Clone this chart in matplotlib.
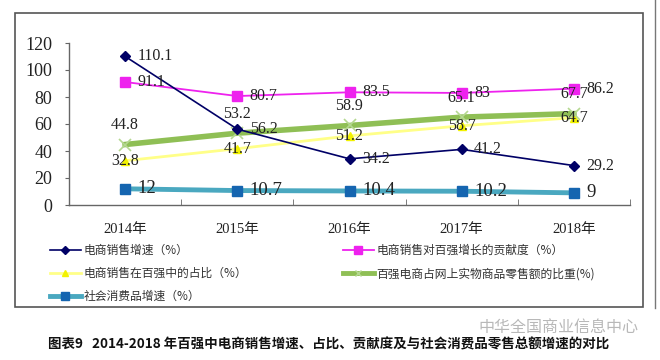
import matplotlib
matplotlib.use('Agg')
import matplotlib.pyplot as plt
from matplotlib.lines import Line2D
from matplotlib.patches import Rectangle

# ---------------- data ----------------
years = ['2014年', '2015年', '2016年', '2017年', '2018年']
growth = [110.1, 56.2, 34.2, 41.2, 29.2]          # 电商销售增速
contrib = [91.1, 80.7, 83.5, 83, 86.2]            # 贡献度
share = [32.8, 41.7, 51.2, 58.7, 64.7]            # 占比
online_share = [44.8, 53.2, 58.9, 65.1, 67.7]     # 占网上实物商品零售额比重
retail_growth = [12, 10.7, 10.4, 10.2, 9]         # 社会消费品增速
series_names = ['电商销售增速（%）', '电商销售对百强增长的贡献度（%）',
                '电商销售在百强中的占比（%）', '百强电商占网上实物商品零售额的比重(%)',
                '社会消费品增速（%）']
yticks = [0, 20, 40, 60, 80, 100, 120]
caption = '图表9   2014-2018 年百强中电商销售增速、占比、贡献度及与社会消费品零售总额增速的对比'
watermark = '中华全国商业信息中心'

plt.rcParams['font.family'] = ['Liberation Serif', 'Noto Sans CJK SC']
W, H = 660, 360
fig = plt.figure(figsize=(W / 100, H / 100), dpi=100)
fig.patch.set_facecolor('white')

def fx(px):
    return px / W

def fy(py):
    return 1 - py / H

ax = fig.add_axes([fx(69), fy(205), fx(630) - fx(69), fy(43) - fy(205)])
x = list(range(len(years)))

c_navy = '#000066'
c_mag = '#ee22ee'
c_yel_line = '#ffff88'
c_yel_mk = '#f2f200'
c_green = '#8fbf55'
c_green_mk = '#b5d890'
c_blue_line = '#4aa8c0'
c_blue_mk = '#1565b0'

ax.plot(x, retail_growth, color=c_blue_line, lw=3.5, marker='s', ms=7,
        mfc=c_blue_mk, mec=c_blue_mk, zorder=2)
ax.plot(x, share, color=c_yel_line, lw=2.0, marker='^', ms=6,
        mfc=c_yel_mk, mec=c_yel_mk, zorder=3)
ax.plot(x, online_share, color=c_green, lw=4.0, marker='x', ms=8, mew=1.2,
        mec=c_green_mk, zorder=4)
ax.plot(x, contrib, color=c_mag, lw=1.3, marker='s', ms=7,
        mfc=c_mag, mec=c_mag, zorder=5)
ax.plot(x, growth, color=c_navy, lw=1.2, marker='D', ms=5,
        mfc=c_navy, mec=c_navy, zorder=6)

lab_kw = dict(textcoords='offset points', color='#222222', fontsize=11.5,
              family=['Liberation Serif'])
for i in x:
    ax.annotate(f'{growth[i]:g}', (i, growth[i]), xytext=(9, 0),
                ha='left', va='center', zorder=7, **lab_kw)
    ax.annotate(f'{contrib[i]:g}', (i, contrib[i]), xytext=(9, 0),
                ha='left', va='center', zorder=7, **lab_kw)
    ax.annotate(f'{share[i]:g}', (i, share[i]), xytext=(0, 0),
                ha='center', va='center', zorder=7, **lab_kw)
    ax.annotate(f'{online_share[i]:g}', (i, online_share[i]), xytext=(0, 14),
                ha='center', va='center', zorder=7, **lab_kw)
    ax.annotate(f'{retail_growth[i]:g}', (i, retail_growth[i]), xytext=(9, 0),
                ha='left', va='center', zorder=7,
                **{**lab_kw, 'fontsize': 13.5})

ax.set_xlim(-0.5, len(years) - 0.5)
ax.set_ylim(0, 120)
ax.set_yticks(yticks)
ax.set_yticklabels([str(v) for v in yticks], fontsize=13, color='#222222')
ax.set_xticks(x)
ax.set_xticklabels(years, fontsize=10.5, color='#222222')
ax.set_xticks([i - 0.5 for i in range(len(years) + 1)], minor=True)
ax.tick_params(axis='x', which='major', length=0, pad=13)
ax.tick_params(axis='x', which='minor', length=4, direction='in', color='#666666')
ax.tick_params(axis='y', length=3, direction='out', pad=9, color='#666666')
for s in ['top', 'right']:
    ax.spines[s].set_visible(False)
for s in ['left', 'bottom']:
    ax.spines[s].set_color('#666666')
    ax.spines[s].set_linewidth(1.0)
ax.set_facecolor('none')

# ---------------- legend ----------------
handles = [
    Line2D([], [], color=c_navy, lw=1.2, marker='D', ms=4, mfc=c_navy, mec=c_navy),
    Line2D([], [], color=c_mag, lw=1.3, marker='s', ms=6, mfc=c_mag, mec=c_mag),
    Line2D([], [], color=c_yel_line, lw=2, marker='^', ms=5, mfc=c_yel_mk, mec=c_yel_mk),
    Line2D([], [], color=c_green, lw=3.5, marker='x', ms=5, mec=c_green_mk),
    Line2D([], [], color=c_blue_line, lw=3.5, marker='s', ms=6, mfc=c_blue_mk, mec=c_blue_mk),
]
leg_kw = dict(frameon=False, handlelength=2.6, handletextpad=0.25,
              borderpad=0, borderaxespad=0, labelspacing=0.85,
              prop={'family': ['Noto Sans CJK SC'], 'size': 8.5})
leg1 = fig.legend([handles[0], handles[2], handles[4]],
                  [series_names[0], series_names[2], series_names[4]],
                  loc='upper left', bbox_to_anchor=(fx(50), fy(244)), **leg_kw)
for t in leg1.get_texts():
    t.set_color('#333333')
leg2 = fig.legend([handles[1], handles[3]], [series_names[1], series_names[3]],
                  loc='upper left', bbox_to_anchor=(fx(343), fy(244)), **leg_kw)
for t in leg2.get_texts():
    t.set_color('#333333')

# ---------------- frame, caption, watermark ----------------
fig.add_artist(Rectangle((fx(15), fy(307)), fx(643) - fx(15), fy(13) - fy(307),
                         transform=fig.transFigure, fill=False,
                         edgecolor='#555555', lw=1.2))
fig.add_artist(Line2D([fx(655), fx(655)], [fy(0), fy(308)], transform=fig.transFigure,
                      color='#777777', lw=1.0))
fig.text(fx(478), fy(327), watermark, fontsize=11.5, color='#b8b8b8',
         family=['Noto Sans CJK SC'], weight='light', ha='left', va='center')
fig.text(fx(48), fy(344), caption, fontsize=9.7, color='#111111',
         family=['Noto Sans CJK SC'], weight='bold', ha='left', va='center')

fig.savefig('out.png', dpi=100, facecolor='white')
